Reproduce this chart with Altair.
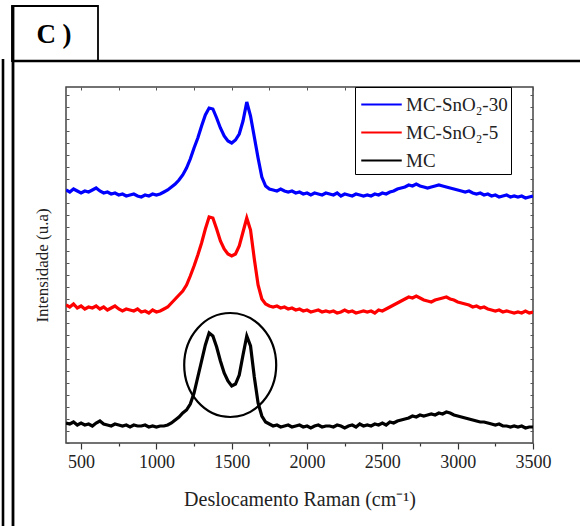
import altair as alt
import pandas as pd

# Raman shift grid (cm-1), every 25 from 400 to 3500
shift = list(range(400, 3501, 25))

series_names = ["MC-SnO₂-30", "MC-SnO₂-5", "MC"]
series_colors = ["#0000ff", "#ff0000", "#000000"]

mc = [
    20, 19, 21, 18, 20, 18, 19, 17, 20, 22,
    19, 18, 17, 19, 18, 17, 18, 16, 18, 17,
    17, 18, 16, 17, 16, 17, 17, 18, 20, 23,
    26, 30, 33, 39, 50, 66, 82, 98, 110, 107,
    96, 82, 70, 62, 57, 59, 68, 88, 107, 97,
    66, 40, 27, 21, 19, 17, 18, 16, 17, 18,
    16, 17, 18, 16, 17, 15, 17, 18, 16, 17,
    17, 16, 18, 17, 15, 17, 18, 16, 19, 17,
    18, 17, 19, 18, 20, 18, 21, 20, 22, 23,
    24, 25, 27, 26, 28, 27, 28, 29, 28, 30,
    29, 31, 30, 28, 27, 26, 25, 24, 23, 22,
    21, 21, 20, 19, 18, 19, 17, 17, 16, 17,
    16, 17, 15, 16, 16,
]

mc_sno2_5 = [
    138, 136, 139, 135, 137, 134, 136, 135, 137, 134,
    136, 133, 135, 137, 134, 132, 134, 133, 132, 134,
    131, 132, 130, 133, 131, 132, 134, 136, 140, 144,
    148, 152, 158, 167, 177, 188, 200, 214, 226, 225,
    214, 202, 194, 189, 187, 189, 197, 211, 225, 213,
    184, 158, 144, 139, 137, 136, 137, 135, 136, 134,
    135, 133, 134, 132, 133, 131, 132, 133, 131, 132,
    131, 132, 130, 131, 133, 131, 132, 130, 131, 132,
    131, 132, 130, 133, 132, 134, 136, 138, 140, 142,
    144, 146, 145, 147, 145, 143, 142, 141, 143, 144,
    145, 146, 144, 143, 141, 140, 139, 138, 136, 137,
    135, 136, 134, 133, 132, 133, 131, 132, 131, 130,
    131, 130, 132, 130, 131,
]

mc_sno2_30 = [
    253, 251, 254, 252, 250, 252, 251, 253, 255, 252,
    250, 251, 249, 250, 248, 249, 247, 248, 249, 247,
    246, 248, 247, 249, 248, 249, 251, 253, 256, 259,
    263, 268, 275, 284, 295, 305, 317, 328, 335, 334,
    325, 315, 307, 302, 300, 303, 309, 322, 341, 327,
    306, 285, 266, 257, 254, 253, 252, 254, 252, 251,
    252, 250, 251, 249, 250, 248, 250, 249, 248, 250,
    249, 248, 250, 247, 249, 248, 247, 249, 248, 247,
    248, 247, 249, 248, 250, 249, 251, 252, 254, 255,
    256, 258, 257, 259, 257, 256, 255, 256, 257, 258,
    257, 256, 255, 254, 253, 252, 251, 252, 250, 249,
    250, 248, 249, 247, 248, 246, 247, 248, 246, 247,
    246, 247, 245, 246, 247,
]

x_ticks = list(range(500, 3501, 250))
y_ticks = list(range(0, 357, 12))

# highlighted region (ellipse) centre
circle_shift = [1490]
circle_int = [78]

rows = []
for name, vals in zip(series_names, [mc_sno2_30, mc_sno2_5, mc]):
    for s, v in zip(shift, vals):
        rows.append({"shift": s, "intensity": v, "series": name})
df = pd.DataFrame(rows)
df_circle = pd.DataFrame({"shift": circle_shift, "intensity": circle_int})
one = pd.DataFrame({"a": [0]})

SERIF = "Liberation Serif"
xscale = alt.Scale(domain=[400, 3500], nice=False, zero=False)
yscale = alt.Scale(domain=[0, 356], nice=False, zero=False)

major = "datum.value % 500 === 0"

lines = alt.Chart(df).mark_line(strokeWidth=3.2, clip=True).encode(
    x=alt.X("shift:Q", scale=xscale,
            axis=alt.Axis(orient="bottom", values=x_ticks, format="d",
                          labelExpr=f"{major} ? datum.label : ''",
                          tickSize={"condition": {"test": major, "value": 6}, "value": 3},
                          tickColor="#333", tickWidth=1.2, domain=False, grid=False,
                          labelFont=SERIF, labelFontSize=18, labelColor="#222",
                          labelPadding=4, labelFlush=False,
                          title="Deslocamento Raman (cm⁻¹)", titleFont=SERIF,
                          titleFontSize=20, titleFontWeight="normal", titleColor="#222",
                          titlePadding=18)),
    y=alt.Y("intensity:Q", scale=yscale,
            axis=alt.Axis(orient="left", values=y_ticks, labels=False, domain=False,
                          grid=False, offset=-3, tickSize=3, tickColor="#555",
                          title="Intensidade (u.a)", titleFont=SERIF, titleFontSize=17,
                          titleFontWeight="normal", titleColor="#222", titlePadding=14)),
    color=alt.Color("series:N",
                    scale=alt.Scale(domain=series_names, range=series_colors),
                    legend=alt.Legend(orient="none", legendX=289, legendY=0, title=None,
                                      symbolType="M-1.5,0H1.5", symbolSize=729,
                                      symbolStrokeWidth=2, symbolOffset=9,
                                      labelOffset=10, labelFont=SERIF, labelFontSize=19,
                                      labelColor="#222", strokeColor="#000",
                                      padding=3, rowPadding=3, fillColor="white")),
    order=alt.Order("series:N"),
)

ellipse_path = ("M1,0 C1,0.624 0.552,1.13 0,1.13 C-0.552,1.13 -1,0.624 -1,0 "
                "C-1,-0.624 -0.552,-1.13 0,-1.13 C0.552,-1.13 1,-0.624 1,0 Z")
circle = alt.Chart(df_circle).mark_point(shape=ellipse_path, size=8464, filled=False,
                                        stroke="black", strokeWidth=2.2, opacity=1).encode(
    x=alt.X("shift:Q", scale=xscale,
            axis=alt.Axis(orient="top", values=x_ticks, labels=False, domain=False,
                          grid=False, offset=-3, tickSize=3, tickColor="#555", title=None)),
    y=alt.Y("intensity:Q", scale=yscale,
            axis=alt.Axis(orient="right", values=y_ticks, labels=False, domain=False,
                          grid=False, offset=-3, tickSize=3, tickColor="#555", title=None)),
)

# panel decoration (frame with "C )" tab)
tab = alt.Chart(one).mark_rect(fill="white", stroke="black", strokeWidth=1.8).encode(
    x=alt.value(-54), x2=alt.value(32), y=alt.value(-81), y2=alt.value(-26))
hline = alt.Chart(one).mark_rule(color="black", strokeWidth=2.6).encode(
    x=alt.value(-54), x2=alt.value(514), y=alt.value(-26))
vline_outer = alt.Chart(one).mark_rule(color="black", strokeWidth=2.6).encode(
    x=alt.value(-63), y=alt.value(-28), y2=alt.value(439))
vline_inner = alt.Chart(one).mark_rule(color="black", strokeWidth=2.8).encode(
    x=alt.value(-53), y=alt.value(-81), y2=alt.value(439))
tab_text = alt.Chart(one).mark_text(text="C )", font=SERIF, fontSize=27, fontWeight="bold",
                                    align="center", baseline="middle", color="black").encode(
    x=alt.value(-12), y=alt.value(-52))

chart = alt.layer(lines, circle, tab, hline, vline_outer, vline_inner, tab_text).resolve_axis(
    x="independent", y="independent"
).properties(
    width=467, height=356,
    autosize=alt.AutoSizeParams(type="none"),
    padding={"left": 66, "top": 87, "right": 47, "bottom": 83},
    background="white",
).configure_view(stroke="#444", strokeWidth=1.5)

chart.save("out.html", embed_options={"renderer": "svg", "actions": False})
